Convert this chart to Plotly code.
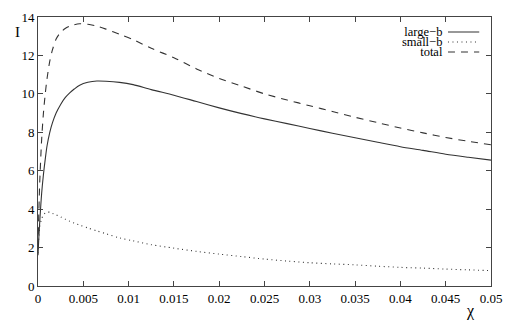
import plotly.graph_objects as go

chi = [0, 0.0001, 0.0002, 0.0004, 0.0006, 0.0008, 0.001, 0.0013, 0.0016, 0.002,
       0.0025, 0.003, 0.0035, 0.004, 0.0046, 0.0055, 0.0065, 0.0075, 0.009, 0.0105,
       0.0125, 0.015, 0.0175, 0.02, 0.0225, 0.025, 0.0275, 0.03, 0.0325, 0.035,
       0.0375, 0.04, 0.0425, 0.045, 0.0475, 0.05]

large_b = [1.6, 2.6, 3.4, 4.8, 5.8, 6.6, 7.3, 8.0, 8.5, 9.0,
           9.45, 9.8, 10.05, 10.25, 10.45, 10.6, 10.67, 10.66, 10.6, 10.48,
           10.22, 9.93, 9.6, 9.27, 8.97, 8.7, 8.45, 8.2, 7.95, 7.72,
           7.48, 7.25, 7.06, 6.86, 6.7, 6.55]

small_b = [1.7, 2.6, 3.1, 3.5, 3.7, 3.8, 3.84, 3.84, 3.78, 3.7,
           3.6, 3.48, 3.37, 3.27, 3.17, 3.02, 2.87, 2.72, 2.5, 2.35,
           2.15, 1.97, 1.8, 1.66, 1.53, 1.4, 1.3, 1.21, 1.15, 1.1,
           1.03, 0.97, 0.93, 0.88, 0.84, 0.8]

total = [2.0, 4.0, 5.5, 7.6, 9.0, 10.0, 10.8, 11.7, 12.3, 12.85,
         13.2, 13.4, 13.52, 13.6, 13.65, 13.62, 13.52, 13.37, 13.1, 12.82,
         12.37, 11.88, 11.3, 10.8, 10.4, 10.0, 9.68, 9.38, 9.08, 8.78,
         8.5, 8.22, 7.97, 7.73, 7.53, 7.35]

x_ticks = [0, 0.005, 0.01, 0.015, 0.02, 0.025, 0.03, 0.035, 0.04, 0.045, 0.05]
x_tick_text = ["0", "0.005", "0.01", "0.015", "0.02", "0.025", "0.03", "0.035", "0.04", "0.045", "0.05"]
y_ticks = [0, 2, 4, 6, 8, 10, 12, 14]

series_names = ["large\u2212b", "small\u2212b", "total"]
series_dash = ["solid", "1px,3.5px", "7px,6px"]
series_data = [large_b, small_b, total]

LINE = "#333333"
FONT = "Liberation Serif"

fig = go.Figure()
for name, ys, dash in zip(series_names, series_data, series_dash):
    fig.add_trace(go.Scatter(x=chi, y=ys, mode="lines", name=name,
                             line=dict(color=LINE, width=1.1, dash=dash, smoothing=0.8),
                             line_shape="spline", showlegend=False))

# legend (gnuplot style: text right-aligned, sample to the right)
leg_y = [0.944, 0.907, 0.870]
legend_text = "<br>".join(
    "<span style='font-size:12.5px'>%s</span>" % n for n in series_names)
fig.add_annotation(xref="paper", yref="paper", x=0.896, y=leg_y[1], text=legend_text,
                   showarrow=False, xanchor="right", yanchor="middle", align="right",
                   borderpad=0,
                   font=dict(family=FONT, size=7.7, color="#000"))
for dash, ly in zip(series_dash, leg_y):
    fig.add_shape(type="line", xref="paper", yref="paper", x0=0.905, x1=0.974,
                  y0=ly, y1=ly, line=dict(color=LINE, width=1.1, dash=dash))

fig.add_annotation(xref="paper", yref="paper", x=-0.046, y=0.944, text="I",
                   showarrow=False, xanchor="center", yanchor="middle",
                   font=dict(family=FONT, size=15, color="#000"))
fig.add_annotation(xref="paper", yref="paper", x=0.954, y=-0.093, text="\u03c7",
                   showarrow=False, xanchor="center", yanchor="middle",
                   font=dict(family=FONT, size=16, color="#000"))

axis_common = dict(showgrid=False, zeroline=False, showline=True, linecolor="#444",
                   linewidth=1, mirror="ticks", ticks="inside", ticklen=5,
                   tickcolor="#444", automargin=False,
                   tickfont=dict(family=FONT, size=13, color="#000"))
fig.update_xaxes(range=[0, 0.05], tickvals=x_ticks, ticktext=x_tick_text, **axis_common)
fig.update_yaxes(range=[0, 14], tickvals=y_ticks, **axis_common)

# page body adds an 8px margin, so the figure is sized to fit inside the window
fig.update_layout(width=509, height=319, margin=dict(l=30, r=26, t=9, b=41),
                  plot_bgcolor="white", paper_bgcolor="white")

fig.write_html("out.html")
